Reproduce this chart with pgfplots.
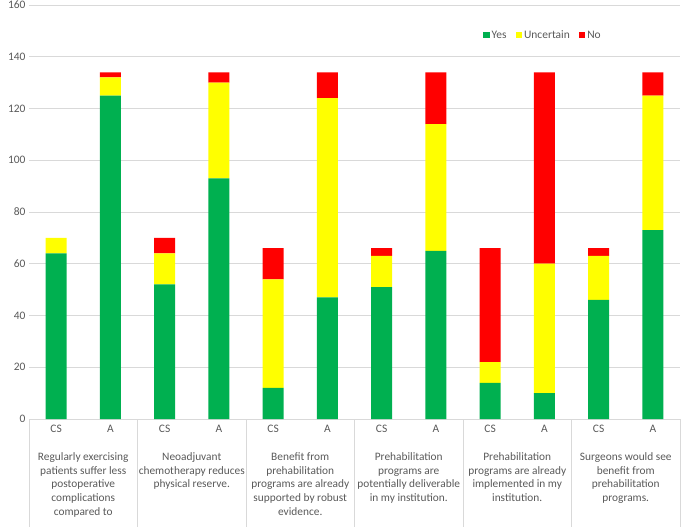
\documentclass[border=0pt]{standalone}
\usepackage{pgfplots}
\pgfplotsset{compat=1.18}
\usepackage{fontspec}
\setmainfont{Carlito}
\definecolor{cyes}{HTML}{00B050}
\definecolor{cunc}{HTML}{FFFF00}
\definecolor{cno}{HTML}{FF0000}
\definecolor{gridgray}{HTML}{D9D9D9}
\definecolor{labelgray}{HTML}{595959}
\tikzset{cat/.style={anchor=north, align=center, inner sep=0pt, yshift=-33bp,
  font=\fontsize{11.4}{14}\selectfont, text=labelgray}}
\begin{document}
\begin{tikzpicture}
\begin{axis}[
  at={(0bp,0bp)}, anchor=south west,
  scale only axis, width=651bp, height=414bp,
  ybar stacked, bar width=0.39,
  xmin=-0.5, xmax=11.5, ymin=0, ymax=160,
  ytick={0,20,...,160},
  xtick={0,...,11},
  xticklabels={CS,A,CS,A,CS,A,CS,A,CS,A,CS,A},
  major tick length=0,
  axis line style={draw=none},
  ymajorgrids, grid style={color=gridgray, line width=0.8bp},
  tick label style={font=\fontsize{11.5}{13}\selectfont, text=labelgray},
  xticklabel style={yshift=-3bp},
  /pgf/number format/assume math mode=true,
  clip=false,
  legend style={at={(0.7895,0.927)}, anchor=center, draw=none, fill=none,
    legend columns=-1, font=\fontsize{11.5}{13}\selectfont, text=labelgray,
    /tikz/every even column/.append style={column sep=7bp}},
  legend image code/.code={\fill[#1] (0bp,-3bp) rectangle (6.5bp,3.5bp);},
]
\addplot[fill=cyes, draw=none] coordinates {
  (0,64) (1,125) (2,52) (3,93) (4,12) (5,47) (6,51) (7,65) (8,14) (9,10) (10,46) (11,73)};
\addplot[fill=cunc, draw=none] coordinates {
  (0,6) (1,7) (2,12) (3,37) (4,42) (5,77) (6,12) (7,49) (8,8) (9,50) (10,17) (11,52)};
\addplot[fill=cno, draw=none] coordinates {
  (0,0) (1,2) (2,6) (3,4) (4,12) (5,10) (6,3) (7,20) (8,44) (9,74) (10,3) (11,9)};
\legend{Yes, Uncertain, No}
% category table below the axis
\draw[gridgray, line width=0.8bp] (axis cs:-0.5,0) -- (axis cs:11.5,0);
\pgfplotsinvokeforeach{-0.5,1.5,3.5,5.5,7.5,9.5,11.5}{
  \draw[gridgray, line width=0.8bp] (axis cs:#1,0) -- (axis cs:#1,-41.7);}
\node[cat] at (axis cs:0.5,0) {Regularly exercising\\patients suffer less\\postoperative\\complications\\compared to};
\node[cat] at (axis cs:2.5,0) {Neoadjuvant\\chemotherapy reduces\\physical reserve.};
\node[cat] at (axis cs:4.5,0) {Benefit from\\prehabilitation\\programs are already\\supported by robust\\evidence.};
\node[cat] at (axis cs:6.5,0) {Prehabilitation\\programs are\\potentially deliverable\\in my institution.};
\node[cat] at (axis cs:8.5,0) {Prehabilitation\\programs are already\\implemented in my\\institution.};
\node[cat] at (axis cs:10.5,0) {Surgeons would see\\benefit from\\prehabilitation\\programs.};
\end{axis}
\pgfresetboundingbox
\path (-29bp,-112bp) rectangle (656bp,419bp);
\end{tikzpicture}
\end{document}
